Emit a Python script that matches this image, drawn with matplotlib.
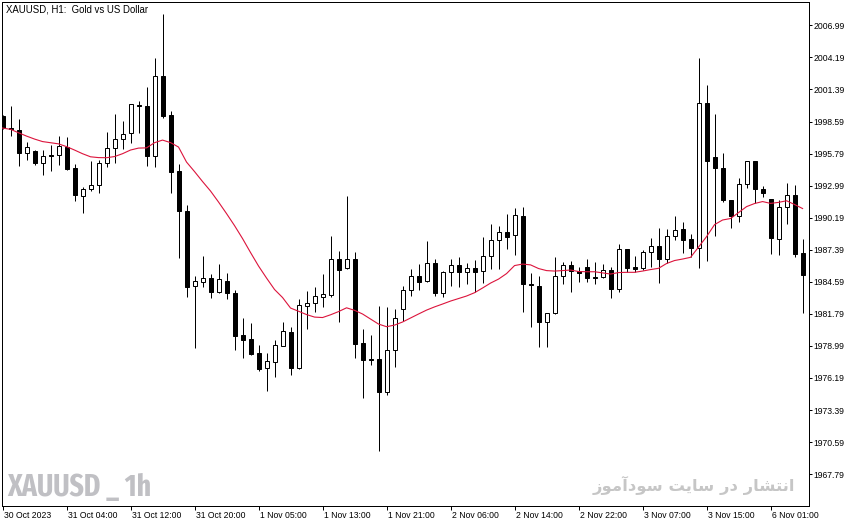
import os
import matplotlib
matplotlib.use('Agg')
import matplotlib.pyplot as plt
from matplotlib import font_manager
from matplotlib.font_manager import FontProperties
import matplotlib.transforms as mtransforms
import numpy as np

# ---------------- data (XAUUSD H1) ----------------
opens = [1999.07, 1998.05, 1997.85, 1995.88, 1996.04, 1995.01, 1995.64, 1995.64, 1996.36, 1994.53,
         1992.11, 1992.67, 1993.02, 1994.94, 1996.25, 1997.03, 1997.56, 2000.00, 1999.94, 1995.55,
         2002.54, 1999.13, 1994.24, 1990.75, 1984.19, 1984.61, 1984.89, 1983.67, 1984.66, 1983.58,
         1979.94, 1979.57, 1978.37, 1977.03, 1977.61, 1979.01, 1980.18, 1977.08, 1982.50, 1982.71,
         1983.23, 1983.43, 1986.58, 1985.77, 1986.58, 1979.24, 1977.84, 1977.84, 1974.94, 1978.60,
         1982.19, 1983.87, 1985.07, 1984.63, 1986.23, 1983.58, 1985.42, 1986.03, 1985.42, 1985.77,
         1985.50, 1986.81, 1988.21, 1988.91, 1988.65, 1990.31, 1984.40, 1984.25, 1981.10, 1981.84,
         1985.07, 1986.03, 1985.50, 1985.85, 1985.01, 1984.98, 1985.59, 1983.93, 1987.43, 1985.88,
         1985.82, 1987.16, 1987.71, 1986.55, 1988.56, 1989.20, 1988.30, 1987.57, 2000.18, 1995.46,
         1994.53, 1991.73, 1990.36, 1993.10, 1995.14, 1992.72, 1991.79, 1988.35, 1991.09, 1992.14,
         1987.08]
highs = [1999.16, 1999.94, 1998.85, 1996.82, 1996.10, 1996.07, 1996.54, 1997.30, 1997.23, 1994.92,
         1992.84, 1995.14, 1995.23, 1997.67, 1999.29, 1998.61, 2000.16, 2000.42, 2001.58, 2004.11,
         2007.98, 1999.51, 1994.88, 1991.30, 1985.09, 1986.84, 1985.27, 1986.14, 1985.33, 1983.87,
         1981.43, 1980.96, 1979.07, 1978.37, 1979.50, 1981.05, 1980.67, 1983.09, 1983.78, 1984.13,
         1985.30, 1988.59, 1987.28, 1992.11, 1987.19, 1980.47, 1979.94, 1982.47, 1982.39, 1982.21,
         1984.22, 1985.71, 1986.14, 1988.15, 1986.55, 1985.53, 1986.55, 1986.73, 1986.23, 1986.49,
         1988.50, 1989.64, 1989.43, 1990.51, 1991.01, 1991.09, 1985.33, 1985.07, 1981.86, 1986.75,
         1986.32, 1986.40, 1985.85, 1986.55, 1986.29, 1986.14, 1985.85, 1987.89, 1987.48, 1986.84,
         1987.36, 1988.39, 1989.26, 1989.17, 1990.33, 1989.81, 1988.74, 2004.16, 2001.78, 1999.24,
         1995.81, 1991.78, 1993.68, 1995.16, 1995.16, 1992.95, 1991.85, 1991.73, 1993.19, 1993.04,
         1988.33]
lows = [1997.93, 1997.32, 1994.70, 1995.23, 1994.79, 1993.96, 1994.29, 1994.75, 1994.35, 1991.64,
        1990.57, 1992.52, 1992.37, 1994.64, 1994.96, 1996.19, 1996.71, 1997.58, 1994.73, 1994.59,
        1998.87, 1992.37, 1986.64, 1983.29, 1978.83, 1984.16, 1983.20, 1983.58, 1983.11, 1978.63,
        1977.96, 1978.19, 1976.82, 1975.08, 1976.30, 1978.98, 1976.45, 1977.00, 1980.49, 1981.95,
        1982.41, 1983.29, 1981.10, 1985.71, 1977.96, 1974.46, 1977.32, 1969.84, 1974.73, 1977.12,
        1981.19, 1983.35, 1983.87, 1984.57, 1983.37, 1983.29, 1984.25, 1984.13, 1984.37, 1983.72,
        1984.51, 1985.71, 1985.71, 1987.48, 1986.90, 1981.98, 1980.61, 1978.87, 1978.87, 1981.78,
        1984.42, 1983.72, 1984.60, 1984.54, 1984.37, 1984.92, 1983.15, 1983.72, 1985.47, 1985.47,
        1985.62, 1985.91, 1984.51, 1986.20, 1988.24, 1987.08, 1986.78, 1985.82, 1986.43, 1988.59,
        1991.56, 1989.31, 1989.84, 1992.78, 1991.44, 1992.02, 1987.04, 1986.95, 1989.61, 1986.78,
        1981.89]
closes = [1998.02, 1997.91, 1995.86, 1996.36, 1994.99, 1995.57, 1995.55, 1996.42, 1994.48, 1992.17,
          1992.67, 1993.02, 1994.94, 1996.25, 1997.03, 1997.50, 2000.09, 1999.92, 1995.60, 2002.54,
          1999.09, 1994.20, 1990.75, 1984.16, 1984.63, 1984.92, 1983.72, 1984.83, 1983.58, 1979.88,
          1979.53, 1978.28, 1976.97, 1977.67, 1979.04, 1980.29, 1977.08, 1982.54, 1982.71, 1983.35,
          1983.50, 1986.58, 1985.64, 1986.58, 1979.18, 1977.78, 1977.73, 1974.94, 1978.60, 1981.43,
          1983.87, 1985.07, 1984.60, 1986.20, 1983.64, 1985.44, 1986.03, 1985.42, 1985.77, 1985.47,
          1986.81, 1988.21, 1988.91, 1988.53, 1990.40, 1984.37, 1984.33, 1981.10, 1981.84, 1985.07,
          1986.03, 1985.50, 1985.33, 1984.95, 1984.95, 1985.59, 1983.93, 1987.43, 1985.82, 1985.73,
          1987.19, 1987.71, 1986.55, 1988.56, 1989.09, 1988.26, 1987.57, 2000.18, 1995.16, 1994.50,
          1991.71, 1990.36, 1993.10, 1995.14, 1992.72, 1992.37, 1988.44, 1991.09, 1992.14, 1987.04,
          1985.18]
ma_values = [1998.02, 1997.91, 1997.61, 1997.32, 1997.06, 1996.84, 1996.74, 1996.64, 1996.40, 1996.10,
             1995.78, 1995.51, 1995.44, 1995.43, 1995.53, 1995.78, 1996.10, 1996.27, 1996.29, 1996.74,
             1996.97, 1996.75, 1996.36, 1995.05, 1994.22, 1993.35, 1992.52, 1991.56, 1990.55, 1989.50,
             1988.37, 1987.15, 1985.97, 1984.92, 1983.92, 1983.22, 1982.30, 1982.02, 1981.73, 1981.51,
             1981.47, 1981.71, 1981.99, 1982.32, 1982.10, 1981.78, 1981.34, 1980.90, 1980.67, 1980.81,
             1981.08, 1981.43, 1981.78, 1982.12, 1982.40, 1982.65, 1982.91, 1983.13, 1983.35, 1983.64,
             1984.05, 1984.48, 1984.83, 1985.31, 1986.01, 1986.14, 1986.07, 1985.75, 1985.57, 1985.53,
             1985.57, 1985.62, 1985.49, 1985.47, 1985.47, 1985.37, 1985.27, 1985.40, 1985.42, 1985.42,
             1985.53, 1985.66, 1985.77, 1986.19, 1986.45, 1986.58, 1986.73, 1987.63, 1988.54, 1989.59,
             1989.99, 1990.12, 1990.64, 1991.16, 1991.43, 1991.60, 1991.44, 1991.53, 1991.67, 1991.34,
             1990.99]
xtick_labels = ["30 Oct 2023", "31 Oct 04:00", "31 Oct 12:00", "31 Oct 20:00", "1 Nov 05:00",
                "1 Nov 13:00", "1 Nov 21:00", "2 Nov 06:00", "2 Nov 14:00", "2 Nov 22:00",
                "3 Nov 07:00", "3 Nov 15:00", "6 Nov 01:00"]
ytick_values = [2006.99, 2004.19, 2001.39, 1998.59, 1995.79, 1992.99, 1990.19, 1987.39,
                1984.59, 1981.79, 1978.99, 1976.19, 1973.39, 1970.59, 1967.79]
title_text = "XAUUSD, H1:  Gold vs US Dollar"
wm_left = "XAUUSD _ 1h"
# Persian "انتشار در سایت سودآموز" in shaped (presentation) forms, visual order
wm_right = ("\uFEAF\uFEEE\uFEE3\uFE81\uFEA9\uFEEE\uFEB3 \uFE96\uFBFE\uFE8E\uFEB3 "
            "\uFEAD\uFEA9 \uFEAD\uFE8E\uFEB8\uFE98\uFEE7\uFE8D")

# ---------------- figure ----------------
W, H = 862, 527
fig = plt.figure(figsize=(W / 100, H / 100), dpi=100)
fig.patch.set_facecolor('white')
ax = fig.add_axes([2 / W, 1 - 506 / H, 807 / W, 504 / H])
ax.set_facecolor('white')

o = np.array(opens); c = np.array(closes)
hi = np.array(highs); lo = np.array(lows)
x = np.arange(len(o))
PX = 0.72  # one pixel in points

ax.vlines(x, lo, hi, color='black', linewidth=PX, zorder=2)
bull = c >= o
ax.bar(x[bull], (c - o)[bull], bottom=o[bull], width=0.5, facecolor='white',
       edgecolor='black', linewidth=PX, zorder=3)
ax.bar(x[~bull], (o - c)[~bull], bottom=c[~bull], width=0.5, facecolor='black',
       edgecolor='black', linewidth=PX, zorder=3)
ax.plot(x, ma_values, color='#dc143c', linewidth=0.8, zorder=4)

ax.set_xlim(-0.0625, 100.8)
ax.set_ylim(1965.01, 2009.03)

tick_font = dict(family=['Liberation Sans', 'DejaVu Sans'], size=6.2)
ax.yaxis.tick_right()
ax.set_yticks(ytick_values)
ax.set_yticklabels([f"{v:.2f}" for v in ytick_values], **tick_font)
ax.tick_params(axis='y', direction='out', length=2.5, width=PX, pad=0.8, colors='black')

ax.set_xticks(np.arange(0, len(o), 8)[:len(xtick_labels)])
ax.set_xticklabels(xtick_labels, **tick_font)
ax.tick_params(axis='x', direction='out', length=3, width=PX, pad=0.3, colors='black')
off = mtransforms.ScaledTranslation(1.0 / 100, 0, fig.dpi_scale_trans)
for lbl in ax.get_xticklabels():
    lbl.set_horizontalalignment('left')
    lbl.set_transform(lbl.get_transform() + off)

for s in ax.spines.values():
    s.set_linewidth(PX)
    s.set_color('black')

fig.text(6.5 / W, 1 - 12.7 / H, title_text, ha='left', va='baseline',
         family=['Liberation Sans', 'DejaVu Sans'], size=6.9, color='black')


# ---- watermark fonts: prefer a condensed bold face if one is installed ----
def find_condensed_bold():
    best, best_rank = None, 99
    for f in font_manager.fontManager.ttflist:
        key = (f.name + ' ' + os.path.basename(f.fname)).lower().replace(' ', '').replace('-', '')
        w = f.weight
        if isinstance(w, str):
            boldish = w.lower() in ('bold', 'heavy', 'black', 'extra bold', 'demibold')
        else:
            boldish = w >= 600
        boldish = boldish or 'bold' in key or 'black' in key
        if not boldish or 'italic' in key or 'oblique' in key or 'mono' in key:
            continue
        if 'extracondensed' in key:
            rank = 0
        elif 'semicondensed' in key:
            rank = 3
        elif 'condensed' in key:
            rank = 1
        elif 'narrow' in key:
            rank = 2
        else:
            continue
        if 'extrabold' in key or 'black' in key:
            rank += 0.5 if rank == 0 else 0
        if rank < best_rank:
            best, best_rank = f.fname, rank
    return best


cond = find_condensed_bold()
if cond:
    wm_prop = FontProperties(fname=cond, size=20)
else:
    wm_prop = FontProperties(family='DejaVu Sans', weight='bold', size=14)

t_left = fig.text(7.5 / W, 1 - 496 / H, wm_left, ha='left', va='baseline',
                  fontproperties=wm_prop, color='#c0c0c4', zorder=1)
t_right = fig.text(795 / W, 1 - 491 / H, wm_right, ha='right', va='baseline',
                   family=['DejaVu Sans'], weight='bold', size=12, color='#c6c6c6', zorder=1)

# fit watermark widths to the reference layout
fig.canvas.draw()
r = fig.canvas.get_renderer()
for t, target in ((t_left, 144.0), (t_right, 202.0)):
    wpx = t.get_window_extent(r).width
    if wpx > 0:
        t.set_fontsize(t.get_fontsize() * target / wpx)

fig.savefig('out.png', dpi=100, facecolor='white')
